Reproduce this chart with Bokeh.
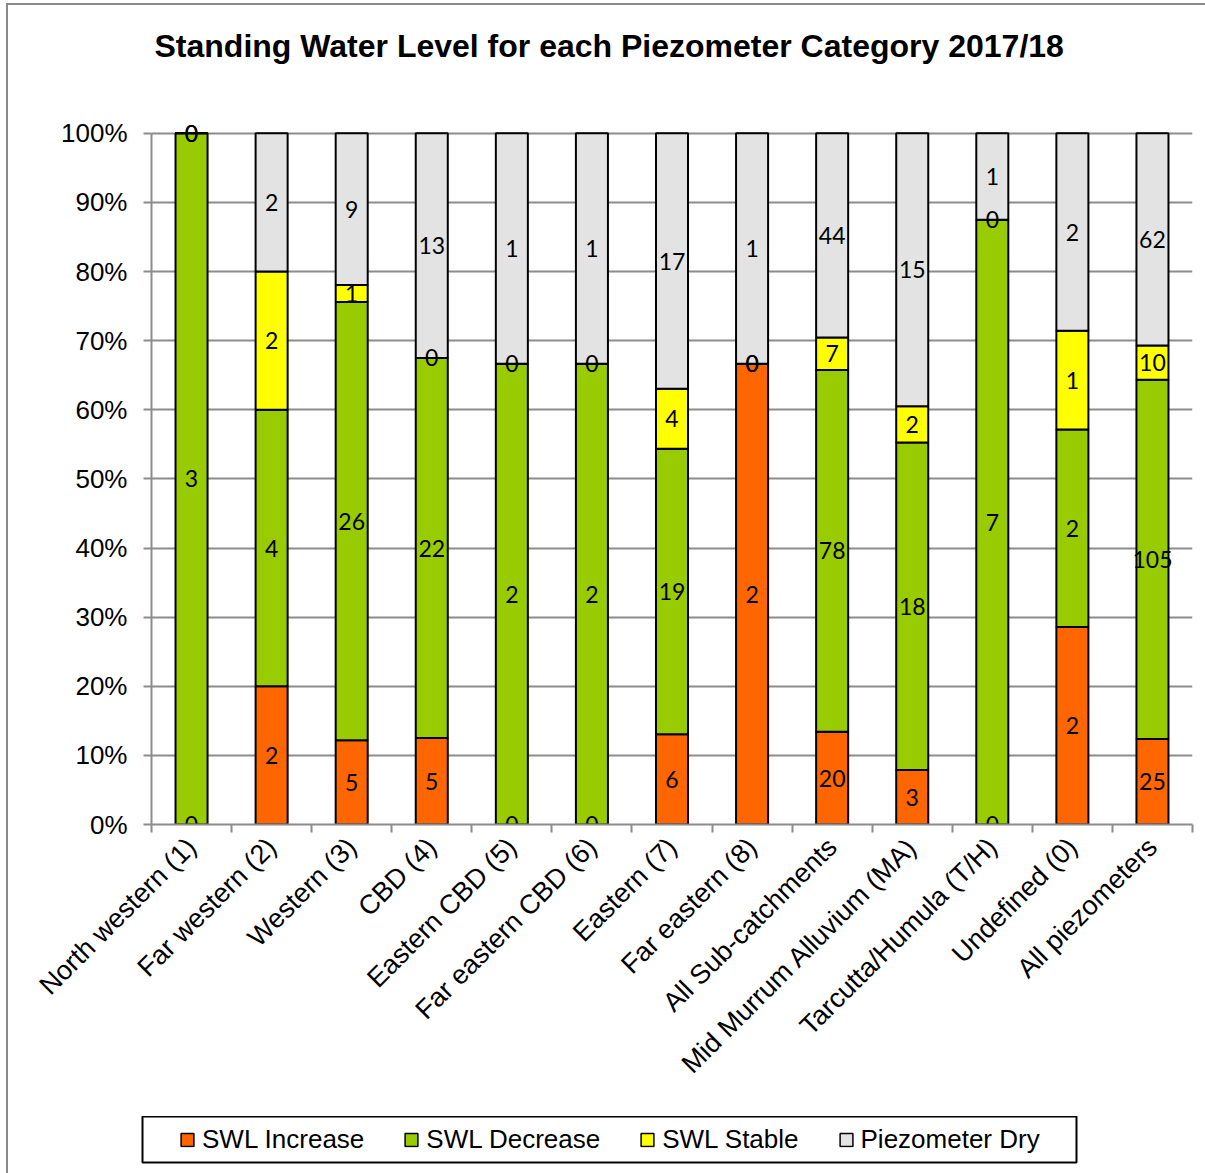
import math
from bokeh.plotting import figure
from bokeh.layouts import column
from bokeh.models import (ColumnDataSource, FixedTicker, Range1d, Legend, LegendItem,
                          PrintfTickFormatter, Title)
from bokeh.core.properties import value
from bokeh.embed import file_html
from bokeh.resources import INLINE

categories = ["North western (1)", "Far western (2)", "Western (3)", "CBD (4)",
              "Eastern CBD (5)", "Far eastern CBD (6)", "Eastern (7)", "Far eastern (8)",
              "All Sub-catchments", "Mid Murrum Alluvium (MA)", "Tarcutta/Humula (T/H)",
              "Undefined (0)", "All piezometers"]
swl_increase = [0, 2, 5, 5, 0, 0, 6, 2, 20, 3, 0, 2, 25]
swl_decrease = [3, 4, 26, 22, 2, 2, 19, 0, 78, 18, 7, 2, 105]
swl_stable = [0, 2, 1, 0, 0, 0, 4, 0, 7, 2, 0, 1, 10]
piezometer_dry = [0, 2, 9, 13, 1, 1, 17, 1, 44, 15, 1, 2, 62]
series_names = ["SWL Increase", "SWL Decrease", "SWL Stable", "Piezometer Dry"]
series_colors = ["#FF6600", "#99CC00", "#FFFF00", "#E3E3E3"]
y_ticks = [0, 10, 20, 30, 40, 50, 60, 70, 80, 90, 100]
title_text = "Standing Water Level for each Piezometer Category 2017/18"

series = [swl_increase, swl_decrease, swl_stable, piezometer_dry]
n = len(categories)
xs = list(range(n))
totals = [sum(s[i] for s in series) for i in range(n)]

GRID = "#8C8C8C"
AXIS_FONT = "Liberation Sans"

# small headroom above 100% so the top data labels are not clipped
p = figure(width=1197, height=1111, x_range=Range1d(-0.5, n - 0.5), y_range=Range1d(0, 102),
           output_backend="svg", toolbar_location=None, tools="",
           min_border_left=143, min_border_right=13, min_border_top=114, min_border_bottom=292)
p.frame_align = False
p.outline_line_color = None
p.background_fill_color = "white"
p.border_fill_color = "white"

# spacer between frame and title, then the title itself
p.add_layout(Title(text=" ", text_font_size="10px", standoff=38, text_color="white"), "above")
p.add_layout(Title(text=title_text, text_font=AXIS_FONT, text_font_size="32px",
                   text_font_style="bold", text_color="black", align="left", offset=3,
                   standoff=10), "above")

# y axis
p.yaxis.ticker = FixedTicker(ticks=y_ticks)
p.yaxis.bounds = (0, 100)
p.yaxis.formatter = PrintfTickFormatter(format="%d%%")
p.yaxis.major_label_text_font = AXIS_FONT
p.yaxis.major_label_text_font_size = "26px"
p.yaxis.major_label_text_color = "black"
p.yaxis.major_label_standoff = 16
p.yaxis.major_tick_out = 8
p.yaxis.major_tick_in = 0
p.yaxis.minor_tick_out = 0
p.yaxis.minor_tick_in = 0
p.yaxis.axis_line_color = GRID
p.yaxis.axis_line_width = 2
p.yaxis.major_tick_line_color = GRID
p.yaxis.major_tick_line_width = 2

# x axis
p.xaxis.ticker = FixedTicker(ticks=xs, minor_ticks=[i - 0.5 for i in range(n + 1)])
p.xaxis.major_label_overrides = {i: categories[i] for i in xs}
p.xaxis.major_label_orientation = math.pi / 4
p.xaxis.major_label_text_font = AXIS_FONT
p.xaxis.major_label_text_font_size = "27px"
p.xaxis.major_label_text_color = "black"
p.xaxis.major_label_standoff = 10
p.xaxis.major_tick_out = 0
p.xaxis.major_tick_in = 0
p.xaxis.minor_tick_out = 8
p.xaxis.minor_tick_in = 0
p.xaxis.minor_tick_line_color = GRID
p.xaxis.minor_tick_line_width = 2
p.xaxis.axis_line_color = GRID
p.xaxis.axis_line_width = 2

p.xgrid.visible = False
p.ygrid.ticker = FixedTicker(ticks=y_ticks)
p.ygrid.grid_line_color = GRID
p.ygrid.grid_line_width = 2

cum = [0.0] * n
label_x, label_y, label_t = [], [], []
for name, color, vals in zip(series_names, series_colors, series):
    bottoms = [cum[i] for i in range(n)]
    tops = [cum[i] + 100.0 * vals[i] / totals[i] for i in range(n)]
    cum = tops
    src = ColumnDataSource(dict(x=xs, bottom=bottoms, top=tops))
    p.vbar(x="x", width=0.4, bottom="bottom", top="top", source=src,
           fill_color=color, line_color="black", line_width=2)
    for i in range(n):
        label_x.append(xs[i])
        label_y.append((bottoms[i] + tops[i]) / 2.0)
        label_t.append(str(vals[i]))

lsrc = ColumnDataSource(dict(x=label_x, y=label_y, t=label_t))
p.text(x="x", y="y", text="t", source=lsrc, text_align="center", text_baseline="middle",
       text_font=value("Lato"), text_font_size="23px", text_color="black")

# legend strip: its frame outline is the legend box
pl = figure(width=1197, height=57, x_range=Range1d(0, 1), y_range=Range1d(0, 1),
            output_backend="svg", toolbar_location=None, tools="",
            x_axis_location=None, y_axis_location=None,
            min_border_left=134, min_border_right=129, min_border_top=0, min_border_bottom=11)
pl.frame_align = False
pl.xgrid.visible = False
pl.ygrid.visible = False
pl.outline_line_color = "black"
pl.outline_line_width = 2
pl.background_fill_color = "white"
pl.border_fill_color = "white"

items = []
for name, color in zip(series_names, series_colors):
    # legend-swatch renderers kept outside the strip's visible range
    r = pl.vbar(x=[-5], bottom=[-5], top=[-4], width=0.4, fill_color=color,
                line_color="black", line_width=1.5)
    items.append(LegendItem(label=name, renderers=[r]))

legend = Legend(items=items, orientation="horizontal", location="left")
legend.label_text_font = AXIS_FONT
legend.label_text_font_size = "26px"
legend.label_text_color = "black"
legend.glyph_width = 16
legend.glyph_height = 16
legend.label_standoff = 7
legend.spacing = 39
legend.padding = 8
legend.margin = 37
legend.border_line_color = None
legend.background_fill_alpha = 0
pl.add_layout(legend, "center")

layout = column(p, pl, spacing=0,
                styles={"border-left": "2px solid #8A8A8A", "border-top": "2px solid #8A8A8A",
                        "margin-left": "6px", "margin-top": "3px"})

open("out.html", "w").write(file_html(layout, INLINE))
